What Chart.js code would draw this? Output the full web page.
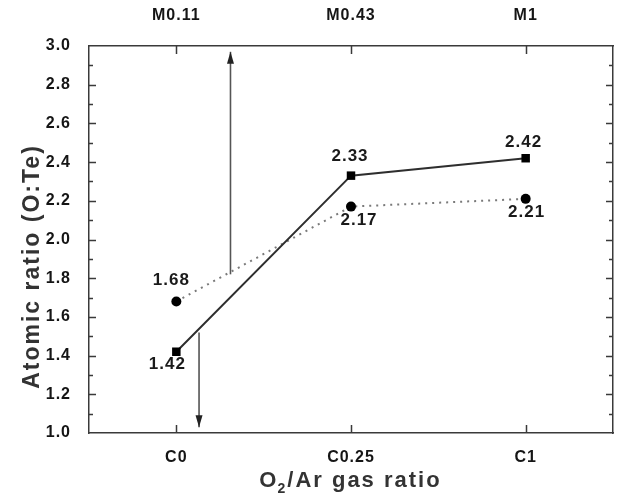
<!DOCTYPE html>
<html>
<head>
<meta charset="utf-8">
<script src="https://cdn.jsdelivr.net/npm/chart.js@4.4.1/dist/chart.umd.min.js"></script>
<style>
  html, body { margin: 0; padding: 0; background: #fff; }
  #ratioChart { display: block; }
</style>
</head>
<body>
<canvas id="ratioChart" width="622" height="495"></canvas>
<script>
const gasRatios = ['C0', 'C0.25', 'C1'];
const topLabels = ['M0.11', 'M0.43', 'M1'];
const squareRatio = [1.42, 2.33, 2.42];
const circleRatio = [1.68, 2.17, 2.21];
const yMin = 1.0;
const yMax = 3.0;
const yStep = 0.2;
const yMinorStep = 0.1;
const upArrow = [{ x: 0.31, y: 1.82 }, { x: 0.31, y: 2.97 }];
const downArrow = [{ x: 0.13, y: 1.52 }, { x: 0.13, y: 1.03 }];

// where each value label sits relative to its point (px)
const squareLabelPos = [{ dx: -9, dy: 13 }, { dx: -1, dy: -19 }, { dx: -2, dy: -16 }];
const circleLabelPos = [{ dx: -5, dy: -21 }, { dx: 8, dy: 14 }, { dx: 1, dy: 13 }];

const tickFont = { family: '"Liberation Sans", Arial, sans-serif', size: 16, weight: 'bold' };
const tickColor = '#151515';
const axisColor = '#3a3a3a';

const ctx = document.getElementById('ratioChart').getContext('2d');

const spacing = {
    id: 'spacing',
    beforeDraw(chart) {
        chart.ctx.letterSpacing = '1px';
    }
};

const innerTicks = {
    id: 'innerTicks',
    beforeDatasetsDraw(chart) {
        const { ctx, chartArea: a, scales } = chart;
        ctx.save();
        ctx.strokeStyle = axisColor;
        ctx.lineWidth = 1.5;
        ctx.beginPath();
        const steps = Math.round((yMax - yMin) / yMinorStep);
        for (let i = 1; i < steps; i++) {
            const y = Math.round(scales.y.getPixelForValue(yMin + i * yMinorStep)) + 0.5;
            const len = i % 2 === 0 ? 7 : 4;
            ctx.moveTo(a.left, y);
            ctx.lineTo(a.left + len, y);
            ctx.moveTo(a.right, y);
            ctx.lineTo(a.right - len, y);
        }
        gasRatios.forEach((_, i) => {
            const x = Math.round(scales.x.getPixelForValue(i)) + 0.5;
            ctx.moveTo(x, a.bottom);
            ctx.lineTo(x, a.bottom - 8);
            ctx.moveTo(x, a.top);
            ctx.lineTo(x, a.top + 8);
        });
        ctx.stroke();
        ctx.restore();
    }
};

function drawHead(ctx, tip, from) {
    const ang = Math.atan2(tip.y - from.y, tip.x - from.x);
    const len = 12;
    const half = 3.5;
    ctx.save();
    ctx.translate(tip.x, tip.y);
    ctx.rotate(ang);
    ctx.beginPath();
    ctx.moveTo(0, 0);
    ctx.lineTo(-len, -half);
    ctx.lineTo(-len, half);
    ctx.closePath();
    ctx.fillStyle = '#222';
    ctx.fill();
    ctx.restore();
}

const extras = {
    id: 'extras',
    afterDatasetsDraw(chart) {
        const { ctx } = chart;
        [2, 3].forEach(di => {
            const pts = chart.getDatasetMeta(di).data;
            drawHead(ctx, pts[1], pts[0]);
        });

        ctx.save();
        ctx.letterSpacing = '1px';
        ctx.font = 'bold 17px "Liberation Sans", Arial, sans-serif';
        ctx.fillStyle = '#1a1a1a';
        ctx.textAlign = 'center';
        ctx.textBaseline = 'middle';
        [[0, squareRatio, squareLabelPos], [1, circleRatio, circleLabelPos]].forEach(([di, vals, pos]) => {
            chart.getDatasetMeta(di).data.forEach((p, i) => {
                ctx.fillText(vals[i].toFixed(2), p.x + pos[i].dx, p.y + pos[i].dy);
            });
        });
        ctx.restore();
    },
    afterDraw(chart) {
        const { ctx, chartArea: a } = chart;
        ctx.save();
        ctx.fillStyle = '#333';
        ctx.letterSpacing = '2px';
        ctx.textBaseline = 'alphabetic';

        // y title
        ctx.font = 'bold 23px "Liberation Sans", Arial, sans-serif';
        ctx.save();
        ctx.translate(a.left - 50, (a.top + a.bottom) / 2 + 27);
        ctx.rotate(-Math.PI / 2);
        ctx.textAlign = 'center';
        ctx.fillText('Atomic ratio (O:Te)', 0, 0);
        ctx.restore();

        // x title with subscript
        const big = 'bold 22px "Liberation Sans", Arial, sans-serif';
        const small = 'bold 14px "Liberation Sans", Arial, sans-serif';
        ctx.textAlign = 'left';
        ctx.font = big;
        const w1 = ctx.measureText('O').width;
        const w3 = ctx.measureText('/Ar gas ratio').width;
        ctx.font = small;
        const w2 = ctx.measureText('2').width;
        let x = (a.left + a.right) / 2 - (w1 + w2 + w3) / 2;
        const base = 487;
        ctx.font = big;
        ctx.fillText('O', x, base);
        x += w1;
        ctx.font = small;
        ctx.fillText('2', x - 1, base + 6);
        x += w2;
        ctx.font = big;
        ctx.fillText('/Ar gas ratio', x - 1, base);
        ctx.restore();
    }
};

function catAxis(position, labels, height, pad) {
    return {
        type: 'linear',
        position: position,
        min: -0.5,
        max: 2.5,
        afterBuildTicks: scale => {
            scale.ticks = labels.map((_, i) => ({ value: i }));
        },
        afterFit: scale => {
            scale.height = height;
        },
        ticks: {
            callback: value => labels[value],
            font: tickFont,
            color: tickColor,
            padding: pad,
            maxRotation: 0
        },
        grid: { display: false },
        border: { display: true, color: axisColor, width: 1.5 }
    };
}

const chart = new Chart(ctx, {
    type: 'line',
    data: {
        datasets: [
            {
                label: 'square',
                data: squareRatio.map((v, i) => ({ x: i, y: v })),
                borderColor: '#2e2e2e',
                borderWidth: 2,
                pointStyle: 'rect',
                pointRadius: 6,
                pointBackgroundColor: '#000',
                pointBorderColor: '#000',
                pointBorderWidth: 0
            },
            {
                label: 'circle',
                data: circleRatio.map((v, i) => ({ x: i, y: v })),
                borderColor: '#7a7a7a',
                borderWidth: 2,
                borderDash: [2, 5],
                pointStyle: 'circle',
                pointRadius: 5,
                pointBackgroundColor: '#000',
                pointBorderColor: '#000',
                pointBorderWidth: 0
            },
            {
                label: 'up',
                data: upArrow,
                borderColor: '#555',
                borderWidth: 1.6,
                pointRadius: 0
            },
            {
                label: 'down',
                data: downArrow,
                borderColor: '#555',
                borderWidth: 1.6,
                pointRadius: 0
            }
        ]
    },
    options: {
        responsive: false,
        animation: false,
        layout: { padding: 0 },
        plugins: {
            legend: { display: false },
            tooltip: { enabled: false }
        },
        scales: {
            x: catAxis('bottom', gasRatios, 62, 7),
            x2: catAxis('top', topLabels, 46, 13),
            y: {
                position: 'left',
                min: yMin,
                max: yMax,
                afterFit: scale => {
                    scale.width = 89;
                },
                ticks: {
                    stepSize: yStep,
                    callback: value => value.toFixed(1),
                    font: tickFont,
                    color: tickColor,
                    padding: 10
                },
                grid: { display: false },
                border: { display: true, color: axisColor, width: 1.5 }
            },
            y2: {
                position: 'right',
                min: yMin,
                max: yMax,
                afterFit: scale => {
                    scale.width = 9;
                },
                ticks: { display: false },
                grid: { display: false },
                border: { display: true, color: axisColor, width: 1.5 }
            }
        }
    },
    plugins: [spacing, innerTicks, extras]
});
</script>
</body>
</html>
